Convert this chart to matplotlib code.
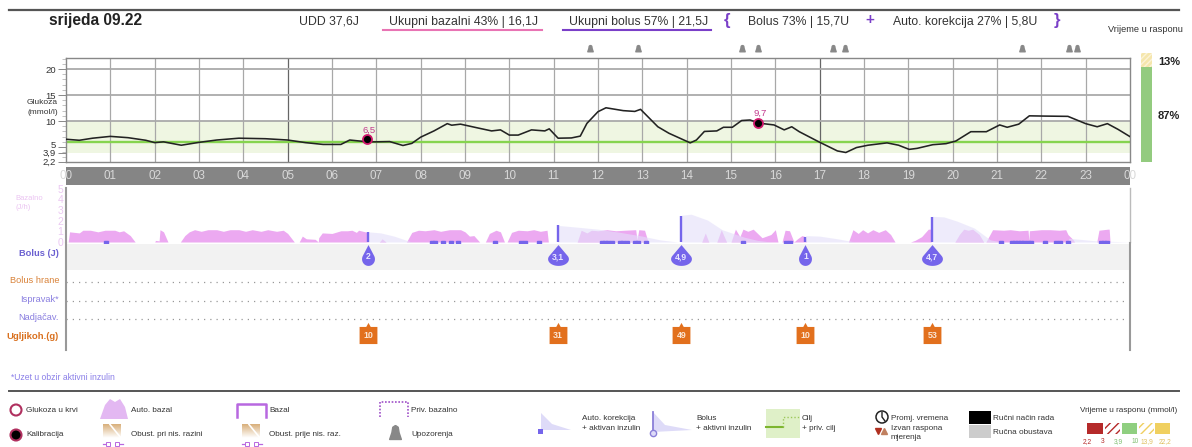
import numpy as np
import matplotlib
matplotlib.use('Agg')
import matplotlib.pyplot as plt
from matplotlib.colors import LinearSegmentedColormap
from matplotlib.patches import Rectangle, Circle, Polygon
from matplotlib.path import Path
from matplotlib.transforms import ScaledTranslation

plt.rcParams['font.family'] = ['Liberation Sans', 'DejaVu Sans']
plt.rcParams['hatch.linewidth'] = 1.0

W, H = 1192, 447

# glukoza
gluc_h = [0, .3, .6, 1, 1.4, 1.8, 2, 2.2, 2.6, 3, 3.4, 3.9, 4.5, 5, 5.4, 5.8, 6.2, 6.4, 6.8, 7, 7.3, 7.6, 7.8, 8, 8.3,
          8.6, 8.7, 8.9, 9.3, 9.6, 9.8, 10, 10.2, 10.5, 10.8, 10.9, 11.1, 11.4, 11.6, 11.75, 12, 12.18, 12.57, 12.83,
          12.96, 13.35, 13.6, 14.08, 14.22, 14.4, 14.68, 14.83, 15.03, 15.24, 15.43, 15.63, 15.97, 16.2, 16.37, 16.54,
          16.97, 17.4, 17.59, 17.83, 18.09, 18.52, 18.78, 19.02, 19.2, 19.55, 19.85, 20.07, 20.41, 20.76, 21.06, 21.23,
          21.49, 21.73, 22.09, 22.6, 23, 23.26, 23.49, 23.73, 24]
gluc_v = [6.5, 6.3, 6.7, 7.05, 6.8, 6.3, 5.85, 6, 5.35, 5.9, 6.35, 6.7, 6.6, 6.35, 5.85, 5.5, 5.5, 6.35, 6, 6, 6.05, 5.3,
          5.7, 6.9, 8.1, 9.5, 9.2, 9.4, 8.65, 8.1, 8.3, 7.3, 7.3, 8.3, 8.1, 8.5, 6.7, 6.75, 7.1, 9.55, 11.8, 12.55, 12,
          11.85, 12.25, 8.9, 7.65, 5.8, 6.35, 8, 8.1, 8.8, 8.8, 10.1, 10.2, 9.6, 9.25, 8.3, 8.9, 7.95, 6.05, 4.25, 3.95,
          4.9, 5.35, 5.8, 5.35, 4.55, 4.75, 5.45, 5.65, 6.15, 7.95, 7.95, 9.25, 8.8, 9.4, 11, 10.95, 10.9, 9.5, 8.9, 9.5,
          8.4, 7]
target = 6.0
range_low, range_high = 3.9, 10
cal_h = [6.8, 15.62]
cal_v = [6.5, 9.7]
cal_lab = ['6,5', '9,7']
alarm_h = [11.83, 12.9, 15.25, 15.6, 17.3, 17.57, 21.57, 22.63, 22.8]
hour_lab = ['00', '01', '02', '03', '04', '05', '06', '07', '08', '09', '10', '11', '12', '13', '14', '15', '16', '17',
            '18', '19', '20', '21', '22', '23', '00']
gluc_ticks = [2.2, 3.9, 5, 10, 15, 20]
gluc_tick_lab = ['2,2', '3,9', '5', '10', '15', '20']

# vrijeme u rasponu
tir_in, tir_high = 87, 13

# bazalni inzulin
basal_h = [.05, .08, .3, .38, .55, .72, .88, 1.1, 1.2, 1.3, 1.45, 1.56,
           2, 2.02, 2.1, 2.12, 2.2, 2.3,
           2.58, 2.68, 2.78, 2.9, 3.05, 3.2, 3.4, 3.55, 3.7, 3.9, 4.05, 4.2, 4.4, 4.55, 4.75, 4.9, 5, 5.15,
           5.26, 5.33, 5.42, 5.62, 5.69, 5.7, 5.78, 6, 6.2, 6.35, 6.45, 6.55, 6.6, 6.8, 6.82,
           7.07, 7.13, 7.22,
           7.68, 7.8, 7.95, 8.1, 8.3, 8.45, 8.65, 8.9, 9, 9.1, 9.2, 9.33,
           9.46, 9.55, 9.7, 9.8, 9.89,
           9.95, 10.05, 10.2, 10.4, 10.55, 10.7, 10.85, 10.88,
           11.53, 11.62, 11.75, 11.85, 12, 12.2, 12.4, 12.6, 12.85, 12.88, 12.92, 13.05, 13.13,
           14.34, 14.42, 14.5, 14.68, 14.78, 14.9,
           15, 15.1, 15.2, 15.27, 15.38, 15.5, 15.7, 15.9, 16, 16.06,
           16.15, 16.22, 16.32, 16.42, 16.5, 16.6, 16.68, 16.7,
           17.65, 17.75, 17.87, 17.97, 18.08, 18.2, 18.33, 18.48, 18.6, 18.7,
           19.05, 19.15, 19.3, 19.45, 19.5, 19.52,
           20.05, 20.15, 20.25, 20.35, 20.45, 20.6, 20.7,
           20.75, 20.9, 21.15, 21.3, 21.5, 21.7, 21.72, 21.73, 22, 22.2, 22.4, 22.55, 22.6, 22.72, 22.75,
           23.25, 23.3, 23.5, 23.53, 23.55]
basal_v = [0, .95, .85, 1.1, 1.1, .95, 1.1, 1.1, .95, 1.05, .6, 0,
           0, .15, .1, 1.15, .95, 0,
           0, .6, .95, 1.15, 1, 1.15, 1.15, 1, 1.15, 1.15, 1, 1.15, 1, 1.15, 1, 1.1, .8, 0,
           0, .55, .3, .25, 0, .4, .85, .8, 1.05, 1.05, 1.1, .9, 1.1, .9, 0,
           0, .3, 0,
           0, .9, 1.1, 1.05, 1.15, 1, 1.15, 1.15, .95, .55, .6, 0,
           0, .8, 1.1, .95, 0,
           0, .9, 1.1, 1.05, 1.15, 1, 1.1, 0,
           0, 1.1, .85, 1.1, 1.05, 1.15, 1.05, 1.1, 1.15, .2, 1.15, 1.1, 0,
           0, .85, 0, 0, 1.15, 0,
           0, 1.2, .5, 1.2, 1, 1.2, .4, .7, 1.15, 0,
           0, 1.1, 1.05, 0, .3, .6, .5, 0,
           0, 1.15, .8, 1.15, .85, 1.15, .9, 1.15, .7, 0,
           0, .15, .5, 1.2, 1.2, 0,
           0, .7, 1.2, 1.1, 1.2, .7, 0,
           0, 1.15, 1.1, 1.15, 1.05, 1.1, .1, 1.05, 1.15, 1.15, 1.1, 1.15, .7, .2, 0,
           0, 1.1, 1.2, 1.2, 0]

# aktivni inzulin nakon bolusa
iob_h = [6.81, 6.82, 7.1, 7.4, 7.65, 7.8,
         11.09, 11.1, 11.5, 12, 12.5, 13, 13.4, 13.8,
         13.87, 13.88, 14.1, 14.47, 14.8, 15.3, 15.6, 15.9,
         16.67, 16.68, 17, 17.4, 17.8,
         19.53, 19.54, 19.8, 20.1, 20.49, 20.85, 21.1,
         22.6, 22.62, 23.2, 24]
iob_v = [0, .95, .85, .55, .2, 0,
         0, 1.55, 1.4, 1.2, .9, .55, .2, 0,
         0, 2.5, 2.6, 2.05, 1.15, .45, .15, 0,
         0, .6, .55, .3, 0,
         0, 2.4, 2.35, 1.95, 1.3, .2, 0,
         0, .35, .12, 0]

# auto. korekcije
micro_h = [.91, 8.26, 8.33, 8.51, 8.69, 8.85, 9.68, 10.26, 10.35, 10.68, 12.09, 12.16, 12.23, 12.31, 12.5, 12.57, 12.65,
           12.83, 12.91, 13.09, 15.26, 16.25, 16.34, 21.08, 21.34, 21.41, 21.48, 21.55, 21.62, 21.69, 21.76, 22.09,
           22.34, 22.41, 22.6, 23.34, 23.41, 23.49]

# bolusi i ugljikohidrati
bolus_h = [6.82, 11.1, 13.88, 16.68, 19.54]
bolus_top = [.97, 1.55, 2.47, .5, 2.37]
bolus_lab = ['2', '3,1', '4,9', '1', '4,7']
carb_h = [6.82, 11.1, 13.88, 16.68, 19.54]
carb_lab = ['10', '31', '49', '10', '53']
basal_ticks = [0, 1, 2, 3, 4, 5]

PINK = '#ECA9F1'
PURPLE = '#7565EB'
ORANGE = '#E2701D'
GREEN = '#86D44F'
TXT = '#333333'


def px_axes(x0, y0, x1, y1):
    a = fig.add_axes([x0 / W, 1 - y1 / H, (x1 - x0) / W, (y1 - y0) / H])
    a.patch.set_alpha(0)
    return a


def drop_path(w):
    # kapljica, vrh gore
    t = np.radians(np.linspace(150, 390, 40))
    return Path([(0, 1)] + list(zip(w * np.cos(t), -.35 + .65 * np.sin(t))) + [(0, 1)])


fig = plt.figure(figsize=(W / 100, H / 100), dpi=100)

# ---- podloga u pikselima: zaglavlje i legenda
ov = fig.add_axes([0, 0, 1, 1])
ov.set_xlim(0, W)
ov.set_ylim(H, 0)
ov.axis('off')


def txt(x, y, s, size=5.9, color=TXT, ha='left', **kw):
    ov.text(x, y, s, fontsize=size, color=color, ha=ha, va='center', **kw)


ov.plot([9, 1179], [9.5, 9.5], color='#555555', lw=1.6)
ov.plot([9, 1179], [390.7, 390.7], color='#555555', lw=1.4)

txt(49, 20, 'srijeda 09.22', 11.2, '#222222', weight='bold')
txt(299, 22, 'UDD 37,6J', 8.8)
txt(389, 22, 'Ukupni bazalni 43% | 16,1J', 8.8)
ov.plot([383, 542], [29.5, 29.5], color='#E874B4', lw=1.5)
txt(569, 22, 'Ukupni bolus 57% | 21,5J', 8.8)
ov.plot([563, 711], [29.5, 29.5], color='#7A3FC8', lw=1.5)
txt(727, 21, '{', 12, '#7A3FC8', ha='center', weight='bold')
txt(748, 22, 'Bolus 73% | 15,7U', 8.8)
txt(870, 20, '+', 11, '#7A3FC8', ha='center', weight='bold')
txt(893, 22, 'Auto. korekcija 27% | 5,8U', 8.8)
txt(1057, 21, '}', 12, '#7A3FC8', ha='center', weight='bold')
txt(1108, 30, 'Vrijeme u rasponu', 6.7)

txt(58, 102.5, 'Glukoza', 6, ha='right')
txt(58, 112, '(mmol/l)', 6, ha='right')
txt(15, 198.5, 'Bazalno', 5.5, '#EBC4F2')
txt(15, 207.5, '(J/h)', 5.5, '#EBC4F2')

txt(59, 254, 'Bolus (J)', 6.7, '#6A5FD0', ha='right', weight='bold')
txt(59, 280.5, 'Bolus hrane', 6.7, '#D9833A', ha='right')
txt(59, 299.5, 'Ispravak*', 6.7, '#8A7FE0', ha='right')
txt(59, 318, 'Nadjačav.', 6.7, '#8A7FE0', ha='right')
txt(59, 336.5, 'Ugljikoh.(g)', 6.8, '#D9701E', ha='right', weight='bold')
txt(11, 377, '*Uzet u obzir aktivni inzulin', 6.2, '#8A7FE8')

txt(1158, 62, '13%', 8, '#222222', weight='bold')
txt(1158, 116, '87%', 8, '#222222', weight='bold')

# legenda, prvi stupci
ov.add_patch(Circle((16, 410), 5.5, fc='white', ec='#B0305F', lw=1.5))
txt(26, 410, 'Glukoza u krvi')
ov.add_patch(Circle((16, 435), 5.5, fc='black', ec='#B0305F', lw=1.5))
txt(26, 435, 'Kalibracija')
ov.add_patch(Polygon([(100, 419), (105, 405), (110, 399), (115, 402), (120, 399), (125, 407), (128, 419)], fc='#E3B8F2', ec='none'))
txt(131, 410, 'Auto. bazal')
tan = LinearSegmentedColormap.from_list('tan', ['#D9B07C', '#FFFFFF'])
for x0, lab, tx in [(103, 'Obust. pri nis. razini', 131), (242, 'Obust. prije nis. raz.', 269)]:
    ov.imshow(np.linspace(0, 1, 30).reshape(-1, 1), extent=(x0, x0 + 18, 438, 424), cmap=tan, aspect='auto', zorder=1)
    ov.plot([x0 + 7, x0 + 18], [424.5, 438], color='white', lw=1.2, zorder=3)
    ov.plot([x0, x0 + 5], [444, 444], color='#B868E0', lw=.9)
    ov.plot([x0 + 14, x0 + 20], [444, 444], color='#B868E0', lw=.9)
    ov.plot([x0 + 5, x0 + 14], [444, 444], color='#B868E0', ls='none', marker='s', ms=2.5, mfc='white', mew=.7)
    txt(tx, 435, lab)
ov.plot([237, 237, 266, 266], [417, 403.5, 403.5, 417], color='#B868E0', lw=1.8)
txt(269, 410, 'Bazal')
ov.plot([380, 380, 408, 408], [417, 402, 402, 417], color='#A050C8', lw=1.2, ls=(0, (1, 1)))
txt(411, 410, 'Priv. bazalno')
bell = Path([(0, 1), (.3, .8), (.4, .2), (.65, -.55), (-.65, -.55), (-.4, .2), (-.3, .8), (0, 1)])
ov.plot([394.6], [434], marker=bell, ms=13, color='#888888', ls='none')
txt(411, 435, 'Upozorenja')

ov.add_patch(Polygon([(541, 413), (552, 424), (571, 430), (541, 430)], fc='#DEDBF8', ec='none'))
ov.add_patch(Rectangle((538, 429), 5, 5, fc='#7565EB', ec='none'))
txt(582, 419, 'Auto. korekcija')
txt(582, 429, '+ aktivan inzulin')
ov.add_patch(Polygon([(653, 412), (665, 425), (692, 430), (653, 432)], fc='#DEDBF8', ec='none'))
ov.plot([653, 653], [412, 432], color='#8A7FD8', lw=1.3)
ov.plot([653], [433], 'o', ms=4.5, mfc='#DEDBF8', mec='#8A7FD8', mew=1)
txt(696, 419, 'Bolus')
txt(696, 429, '+ aktivni inzulin')
ov.add_patch(Rectangle((766, 409), 34, 29, fc='#DFF0C8', ec='none'))
ov.plot([766, 783], [427, 427], color='#7DB52F', lw=1.5)
ov.plot([783, 783, 800], [427, 417, 417], color='#9CC85A', lw=1, ls=(0, (1, 1.5)))
txt(802, 419, 'Cilj')
txt(802, 429, '+ priv. cilj')
ov.add_patch(Circle((882, 417), 6, fc='white', ec='#222222', lw=1.1))
ov.plot([882, 882, 885], [412.5, 417, 421], color='#222222', lw=1)
txt(891, 418, 'Promj. vremena')
ov.plot([878], [431], 'v', ms=4, color='#B03020')
ov.plot([884], [431], '^', ms=4, color='#C08060')
txt(891, 428, 'Izvan raspona')
txt(891, 437.5, 'mjerenja')
ov.add_patch(Rectangle((969, 411), 22, 13, fc='black', ec='none'))
ov.add_patch(Rectangle((969, 425), 22, 13, fc='#CCCCCC', ec='none'))
txt(993, 418, 'Ručni način rada')
txt(993, 432, 'Ručna obustava')
txt(1080, 411, 'Vrijeme u rasponu (mmol/l)')
ov.add_patch(Rectangle((1087, 423), 16, 11, fc='#B52A2A', ec='none'))
ov.add_patch(Rectangle((1105, 423), 15, 11, fc='white', ec='#B52A2A', hatch='////', lw=0))
ov.add_patch(Rectangle((1122, 423), 15, 11, fc='#8FCF80', ec='none'))
ov.add_patch(Rectangle((1139, 423), 15, 11, fc='white', ec='#EFCF60', hatch='////', lw=0))
ov.add_patch(Rectangle((1155, 423), 15, 11, fc='#F0D060', ec='none'))
for x, s, c in [(1087, '2,2', '#B52A2A'), (1103, '3', '#B52A2A'), (1118, '3,9', '#7FBF70'), (1135, '10', '#7FBF70'),
                (1147, '13,9', '#E0C060'), (1165, '22,2', '#E0C060')]:
    txt(x, 441.5, s, 4.8, c, ha='center')
ov.set_xlim(0, W)
ov.set_ylim(H, 0)

# ---- graf glukoze
ax = px_axes(66, 57.6, 1130, 161.6)
ax.set_xlim(0, 24)
ax.set_ylim(2.2, 22.2)
ax.axhspan(range_low, range_high, color='#EFF6E2', lw=0, zorder=0)
for h in range(1, 24):
    ax.axvline(h, color='#666666' if h in (5, 17) else '#A8A8A8', lw=.9, zorder=1)
for v in (10, 15, 20):
    ax.axhline(v, color='#AAAAAA', lw=1.3, zorder=1)
ax.axhline(target, color=GREEN, lw=1.7, zorder=2)
ax.plot(gluc_h, gluc_v, color='#222222', lw=1.15, zorder=3)
ax.plot(cal_h, cal_v, 'o', ms=6.5, mfc='black', mec='#D0186C', mew=1.3, zorder=4)
for h, v, s in zip(cal_h, cal_v, cal_lab):
    ax.text(h + .03, v + 1.7, s, color='#C23B8E', fontsize=6.8, ha='center', va='center', zorder=5)
ax.plot(alarm_h, [23.85] * len(alarm_h), marker=bell, ms=6, color='#888888', ls='none', clip_on=False)
ax.set_xticks([])
ax.set_yticks(gluc_ticks, gluc_tick_lab, fontsize=6.8, color=TXT)
ax.set_yticks(np.arange(3, 23), minor=True)
ax.tick_params(axis='y', which='major', length=6, color='#888888', width=.7, pad=1)
ax.tick_params(axis='y', which='minor', length=3, color='#AAAAAA', width=.5)
# "5" malo gore da se ne sudara s 3,9
lab5 = ax.get_yticklabels()[2]
lab5.set_transform(lab5.get_transform() + ScaledTranslation(0, 2 / 72, fig.dpi_scale_trans))
for s in ('top', 'left', 'right', 'bottom'):
    ax.spines[s].set_color('#888888')
    ax.spines[s].set_linewidth(1)

# ---- vrijeme u rasponu
tr = px_axes(1141, 53, 1152, 162)
tr.bar([0], [tir_in], width=1, color='#93CB7F')
tr.bar([0], [tir_high], bottom=[tir_in], width=1, color='#F5E6AC', hatch='//////', ec='#FBF3D8', lw=0)
tr.set_xlim(-.5, .5)
tr.set_ylim(0, 100)
tr.axis('off')

# ---- traka sa satima
tb = px_axes(66, 166.7, 1130, 185)
tb.set_xlim(0, 24)
tb.set_ylim(0, 1)
tb.patch.set_alpha(1)
tb.patch.set_facecolor('#858585')
tb.set_xticks([])
tb.set_yticks([])
for s in tb.spines.values():
    s.set_visible(False)
for h, s in enumerate(hour_lab):
    tb.text(h, .47, s, color='#D8D8D8', fontsize=8.4, ha='center', va='center', clip_on=False)

# ---- inzulin
ins = px_axes(66, 188, 1130, 242)
ins.set_xlim(0, 24)
ins.set_ylim(0, 5.05)
ins.fill_between(basal_h, basal_v, color=PINK, lw=0, zorder=1)
ins.fill_between(iob_h, iob_v, color='#E4E0FA', alpha=.62, lw=0, zorder=2)
ins.vlines(bolus_h, 0, bolus_top, color=PURPLE, lw=1.7, zorder=3)
ins.plot(micro_h, [-.08] * len(micro_h), 's', ms=2.3, color=PURPLE, clip_on=False, zorder=5)
ins.set_xticks([])
ins.set_yticks(basal_ticks)
ins.set_yticklabels(basal_ticks, fontsize=7.5, color='#EBC8F2')
ins.tick_params(axis='y', length=0, pad=2)
for s in ('top', 'bottom'):
    ins.spines[s].set_visible(False)
ins.spines['left'].set_color('#999999')
ins.spines['left'].set_linewidth(1.5)
ins.spines['right'].set_color('#BBBBBB')
ins.spines['right'].set_linewidth(1)

# ---- bolusi, redovi s tockicama, ugljikohidrati (y u pikselima)
rows = px_axes(66, 243, 1130, 350)
rows.set_xlim(0, 24)
rows.set_ylim(350, 243)
rows.axhspan(243.5, 270, color='#F2F2F2', lw=0, zorder=0)
for y in (282, 300.7, 319.3):
    rows.axhline(y, color='#999999', lw=.9, ls=(0, (1, 4)), zorder=1)
for h, s in zip(bolus_h, bolus_lab):
    w = .62 if len(s) == 1 else 1
    rows.plot([h], [255.3], marker=drop_path(w), ms=15, color=PURPLE, mew=0, zorder=3)
    rows.text(h, 256.7, s, color='#E8E6FF', fontsize=6.2, weight='bold', ha='center', va='center', zorder=4)
carb_box = Path([(-1, -.96), (-1, .96), (-.25, .96), (0, 1.41), (.25, .96), (1, .96), (1, -.96), (-1, -.96)])
for h, s in zip(carb_h, carb_lab):
    rows.plot([h], [335.4], marker=carb_box, ms=18.1, color=ORANGE, mew=0, zorder=3)
    rows.text(h, 335.6, s, color='#FBE6D4', fontsize=6.4, weight='bold', ha='center', va='center', zorder=4)
rows.set_xticks([])
rows.set_yticks([])
for s in ('top', 'bottom'):
    rows.spines[s].set_visible(False)
rows.spines['left'].set_color('#999999')
rows.spines['left'].set_linewidth(1.5)
rows.spines['right'].set_color('#999999')
rows.spines['right'].set_linewidth(1.5)

fig.savefig('out.png', dpi=100)
